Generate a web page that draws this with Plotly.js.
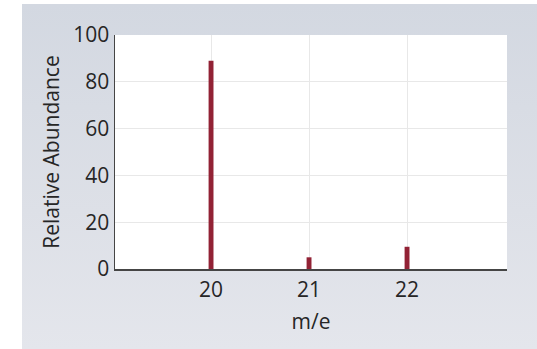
<!DOCTYPE html>
<html>
<head>
<meta charset="utf-8">
<script src="https://cdn.plot.ly/plotly-3.0.1.min.js"></script>
<style>
  html, body { margin: 0; padding: 0; background: #ffffff; width: 537px; height: 349px; overflow: hidden; }
  #wrap { position: absolute; left: 22px; top: 4px; width: 515px; height: 345px;
          background: linear-gradient(180deg, #d3d8e1 0%, #dde0e7 60%, #e4e6ec 100%); }
  #chart { width: 515px; height: 345px; }
</style>
</head>
<body>
<div id="wrap"><div id="chart"></div></div>
<script>
const massToCharge = [20, 21, 22];
const relativeAbundance = [89, 5, 9.5];
const xTickLabels = ["20", "21", "22"];
const yTickValues = [0, 20, 40, 60, 80, 100];

const fontFamily = "'Open Sans', 'Noto Sans', sans-serif";
const textColor = '#262626';

const data = [{
  type: 'bar',
  x: massToCharge,
  y: relativeAbundance,
  width: 0.05,
  marker: { color: '#922235', line: { width: 0 } },
  hoverinfo: 'x+y'
}];

const layout = {
  width: 515,
  height: 345,
  margin: { l: 93, r: 30, t: 31, b: 80 },
  paper_bgcolor: 'rgba(0,0,0,0)',
  plot_bgcolor: '#ffffff',
  showlegend: false,
  font: { family: fontFamily, color: textColor, size: 21 },
  xaxis: {
    range: [19.02, 23.02],
    tickvals: massToCharge,
    ticktext: xTickLabels,
    showgrid: true,
    gridcolor: '#e8e8e8',
    gridwidth: 1,
    zeroline: false,
    showline: true,
    linecolor: '#454545',
    linewidth: 1.5,
    ticks: '',
    ticklabelstandoff: 1,
    tickfont: { family: fontFamily, size: 21, color: textColor },
    title: { text: 'm/e', font: { family: fontFamily, size: 21, color: textColor }, standoff: 12 },
    fixedrange: true
  },
  yaxis: {
    range: [0, 100],
    tickvals: yTickValues,
    ticktext: yTickValues.map(String),
    showgrid: true,
    gridcolor: '#e8e8e8',
    gridwidth: 1,
    zeroline: false,
    showline: true,
    linecolor: '#454545',
    linewidth: 1.5,
    ticks: '',
    ticklabelstandoff: 0,
    tickfont: { family: fontFamily, size: 21, color: textColor },
    title: { text: 'Relative Abundance', font: { family: fontFamily, size: 21, color: textColor }, standoff: 8 },
    fixedrange: true
  }
};

Plotly.newPlot('chart', data, layout, { displayModeBar: false, staticPlot: true });
</script>
</body>
</html>
